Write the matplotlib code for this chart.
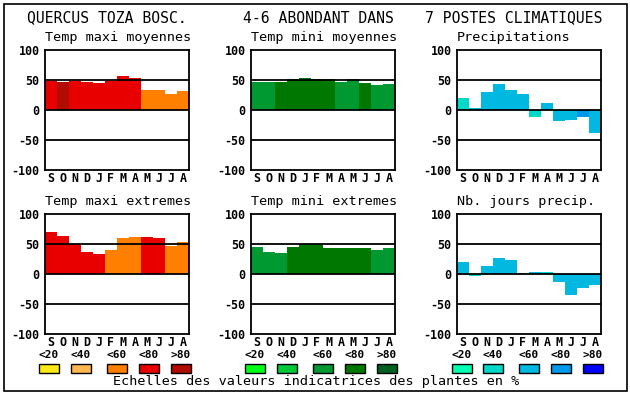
import numpy as np
import matplotlib
matplotlib.use("Agg")
import matplotlib.pyplot as plt
from matplotlib.patches import Rectangle

plt.rcParams['font.family'] = ['DejaVu Sans Mono']

months = ["S", "O", "N", "D", "J", "F", "M", "A", "M", "J", "J", "A"]

# colour scales (<20 <40 <60 <80 >80)
reds = ["#ffe818", "#ffb850", "#ff8000", "#e80000", "#b00c00"]
greens = ["#00ff18", "#00c838", "#009830", "#007800", "#006020"]
blues = ["#00ffb0", "#00d8c8", "#00b8e0", "#0098e8", "#0000ff"]
scale_labels = ["<20", "<40", "<60", "<80", ">80"]

# values per month and class index of each bar
tmax_moy = [49, 47, 49, 47, 45, 49, 57, 53, 33, 33, 27, 32]
tmax_moy_cls = [3, 4, 3, 3, 3, 3, 3, 3, 2, 2, 2, 2]
tmin_moy = [47, 47, 47, 51, 53, 51, 51, 47, 51, 45, 42, 43]
tmin_moy_cls = [2, 2, 3, 3, 3, 3, 3, 2, 2, 3, 2, 2]
precip = [20, 4, 30, 43, 33, 27, -11, 12, -18, -16, -11, -38]
precip_cls = [1, 2, 2, 2, 2, 2, 1, 2, 2, 2, 3, 2]
tmax_ext = [70, 63, 50, 36, 33, 40, 60, 62, 62, 60, 47, 53]
tmax_ext_cls = [3, 3, 3, 3, 3, 2, 2, 2, 3, 3, 2, 2]
tmin_ext = [45, 37, 35, 45, 50, 50, 43, 43, 43, 43, 40, 43]
tmin_ext_cls = [2, 2, 2, 3, 3, 3, 3, 3, 3, 3, 2, 2]
nb_jours = [20, -3, 13, 27, 23, 2, 3, 3, -13, -35, -23, -18]
nb_jours_cls = [2, 1, 2, 2, 2, 2, 2, 1, 2, 2, 2, 2]

W, H = 630, 394
fig = plt.figure(figsize=(W / 100, H / 100), dpi=100)

panels = [
    ("Temp maxi moyennes", tmax_moy, tmax_moy_cls, reds, 45, 50),
    ("Temp mini moyennes", tmin_moy, tmin_moy_cls, greens, 251, 50),
    ("Precipitations", precip, precip_cls, blues, 457, 50),
    ("Temp maxi extremes", tmax_ext, tmax_ext_cls, reds, 45, 214),
    ("Temp mini extremes", tmin_ext, tmin_ext_cls, greens, 251, 214),
    ("Nb. jours precip.", nb_jours, nb_jours_cls, blues, 457, 214),
]

for title, vals, cls, pal, px, py in panels:
    ax = fig.add_axes([px / W, 1 - (py + 120) / H, 144 / W, 120 / H])
    x = np.arange(len(vals))
    ax.bar(x, vals, width=1.0, color=[pal[c] for c in cls], linewidth=0, zorder=1)
    for yv in (-50, 0, 50):
        ax.axhline(yv, color="black", lw=1.3, zorder=3)
    ax.set_xlim(-0.5, 11.5)
    ax.set_ylim(-100, 100)
    ax.set_xticks(x)
    ax.set_xticklabels(months, fontweight="bold", fontsize=8.4)
    ax.set_yticks([-100, -50, 0, 50, 100])
    ax.set_yticklabels(["-100", "-50", "0", "50", "100"], fontweight="bold", fontsize=8.4)
    ax.tick_params(length=0, pad=4)
    ax.tick_params(axis="x", pad=1.5)
    for s in ax.spines.values():
        s.set_linewidth(1.3)
    ax.annotate(title, xy=(0, 1), xycoords="axes fraction", xytext=(0, 12),
                textcoords="offset pixels", va="center", ha="left", fontsize=9.7)

# overlay for border, header and legend (pixel coordinates)
ov = fig.add_axes([0, 0, 1, 1], zorder=-1)
ov.set_xlim(0, W)
ov.set_ylim(H, 0)
ov.axis("off")
ov.add_patch(Rectangle((3.5, 3.5), W - 7, H - 7, fill=False, lw=1.2, ec="black"))

ov.text(27, 18, "QUERCUS TOZA BOSC.", fontsize=10.6, va="center", ha="left", fontweight="medium")
ov.text(243, 18, "4-6 ABONDANT DANS", fontsize=10.6, va="center", ha="left", fontweight="medium")
ov.text(425, 18, "7 POSTES CLIMATIQUES", fontsize=10.6, va="center", ha="left", fontweight="medium")

swatch_x = {
    0: [39, 71, 107, 139, 171],
    1: [245, 277, 313, 345, 377],
    2: [452, 483, 519, 551, 583],
}
for k, pal in enumerate([reds, greens, blues]):
    for i, (col, lab) in enumerate(zip(pal, scale_labels)):
        sx = swatch_x[k][i]
        ov.add_patch(Rectangle((sx, 364), 20, 9, fc=col, ec="black", lw=1.0))
        ov.text(sx + 10, 355, lab, fontsize=8.0, fontweight="bold", ha="center", va="center")

ov.text(316, 382, "Echelles des valeurs indicatrices des plantes en %", fontsize=9.7,
        ha="center", va="center")

fig.savefig("out.png", dpi=100)
